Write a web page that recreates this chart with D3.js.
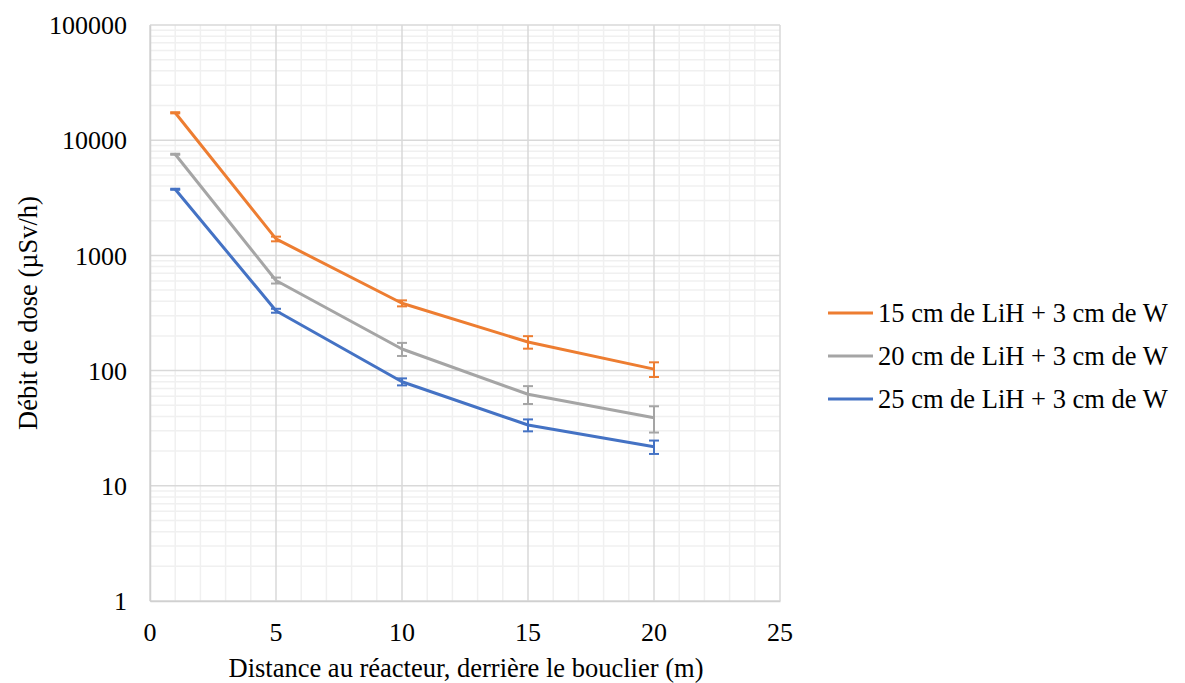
<!DOCTYPE html>
<html>
<head>
<meta charset="utf-8">
<script src="https://cdn.jsdelivr.net/npm/d3@7"></script>
<style>
body{margin:0;background:#fff;}
</style>
</head>
<body>
<svg id="chart" width="1185" height="683"></svg>
<script>
const distances = [1, 5, 10, 15, 20];
const seriesNames = ["15 cm de LiH + 3 cm de W", "20 cm de LiH + 3 cm de W", "25 cm de LiH + 3 cm de W"];
const seriesColors = ["#ED7D31", "#A5A5A5", "#4472C4"];
const dose15 = [17300, 1390, 384, 177, 103];
const dose20 = [7550, 606, 154, 62.3, 39];
const dose25 = [3750, 331, 80, 33.7, 21.8];
const err15 = [200, 65, 23, 22, 15];
const err20 = [80, 36, 20, 11, 10];
const err25 = [40, 13, 5.6, 4, 2.9];
const xTicks = [0, 5, 10, 15, 20, 25];
const yTicks = [1, 10, 100, 1000, 10000, 100000];
const xTitle = "Distance au réacteur, derrière le bouclier (m)";
const yTitle = "Débit de dose (µSv/h)";

const series = [
  {name: seriesNames[0], color: seriesColors[0], values: dose15, errs: err15},
  {name: seriesNames[1], color: seriesColors[1], values: dose20, errs: err20},
  {name: seriesNames[2], color: seriesColors[2], values: dose25, errs: err25}
];

const FONT = "Liberation Serif";
const svg = d3.select("#chart");
const L = 150, R = 780, T = 25, B = 601;
const x = d3.scaleLinear().domain([0, 25]).range([L, R]);
const y = d3.scaleLog().domain([1, 100000]).range([B, T]);

// minor grid
const minorX = d3.range(0, 26, 1).filter(v => v % 5 !== 0);
const minorY = [];
for (let d = 1; d < 100000; d *= 10) for (let k = 2; k <= 9; k++) minorY.push(d * k);
const g = svg.append("g");
g.selectAll(".mx").data(minorX).enter().append("line")
  .attr("x1", d => x(d)).attr("x2", d => x(d)).attr("y1", T).attr("y2", B)
  .attr("stroke", "#f0f0f0").attr("stroke-width", 1.5);
g.selectAll(".my").data(minorY).enter().append("line")
  .attr("x1", L).attr("x2", R).attr("y1", d => y(d)).attr("y2", d => y(d))
  .attr("stroke", "#f0f0f0").attr("stroke-width", 1.5);
// major grid
g.selectAll(".Mx").data(xTicks).enter().append("line")
  .attr("x1", d => x(d)).attr("x2", d => x(d)).attr("y1", T).attr("y2", B)
  .attr("stroke", "#d9d9d9").attr("stroke-width", 1.5);
g.selectAll(".My").data(yTicks).enter().append("line")
  .attr("x1", L).attr("x2", R).attr("y1", d => y(d)).attr("y2", d => y(d))
  .attr("stroke", "#d9d9d9").attr("stroke-width", 1.5);

// axes (lines from d3 axes, labels drawn from the same scales)
const xa = svg.append("g").attr("transform", `translate(0,${B})`)
  .call(d3.axisBottom(x).tickValues(xTicks).tickSize(0).tickFormat(""));
xa.select(".domain").attr("stroke", "#d0d0d0").attr("stroke-width", 1.5);
const ya = svg.append("g").attr("transform", `translate(${L},0)`)
  .call(d3.axisLeft(y).tickValues(yTicks).tickSize(0).tickFormat(""));
ya.select(".domain").attr("stroke", "#d0d0d0").attr("stroke-width", 1.5);

const fmt = d3.format("d");
svg.append("g").selectAll("text").data(xTicks).enter().append("text")
  .attr("x", d => x(d)).attr("y", B + 31).attr("dy", "0.35em")
  .attr("text-anchor", "middle").attr("font-family", FONT).attr("font-size", 26)
  .style("font-family", '"Liberation Serif"')
  .attr("fill", "#000").text(d => fmt(d));
svg.append("g").selectAll("text").data(yTicks).enter().append("text")
  .attr("x", L - 23).attr("y", d => y(d)).attr("dy", "0.35em")
  .attr("text-anchor", "end").attr("font-family", FONT).attr("font-size", 26)
  .style("font-family", '"Liberation Serif"')
  .attr("fill", "#000").text(d => fmt(d));

// titles
svg.append("text").attr("x", (L + R) / 2 + 1).attr("y", 668).attr("dy", "0.35em")
  .attr("text-anchor", "middle").attr("font-family", FONT).attr("font-size", 26.5).text(xTitle);
svg.append("text").attr("transform", `translate(28,${(T + B) / 2}) rotate(-90)`).attr("dy", "0.35em")
  .attr("text-anchor", "middle").attr("font-family", FONT).attr("font-size", 26.5).text(yTitle);

// lines
const line = d3.line().x((d, i) => x(distances[i])).y(d => y(d));
series.forEach(s => {
  svg.append("path").datum(s.values).attr("d", line)
    .attr("fill", "none").attr("stroke", s.color).attr("stroke-width", 3).attr("stroke-linejoin", "round");
  const eb = svg.append("g");
  s.values.forEach((v, i) => {
    const cx = x(distances[i]);
    const y1 = y(v + s.errs[i]), y2 = y(v - s.errs[i]);
    eb.append("line").attr("x1", cx).attr("x2", cx).attr("y1", y1).attr("y2", y2)
      .attr("stroke", s.color).attr("stroke-width", 2);
    [y1, y2].forEach(yy => eb.append("line").attr("x1", cx - 5).attr("x2", cx + 5)
      .attr("y1", yy).attr("y2", yy).attr("stroke", s.color).attr("stroke-width", 2));
  });
});

// legend
const leg = svg.append("g");
series.forEach((s, i) => {
  const ly = 313 + i * 43;
  leg.append("line").attr("x1", 828).attr("x2", 873).attr("y1", ly).attr("y2", ly)
    .attr("stroke", s.color).attr("stroke-width", 3);
  leg.append("text").attr("x", 878).attr("y", ly).attr("dy", "0.35em")
    .attr("font-family", FONT).attr("font-size", 26.5).text(s.name);
});
</script>
</body>
</html>
